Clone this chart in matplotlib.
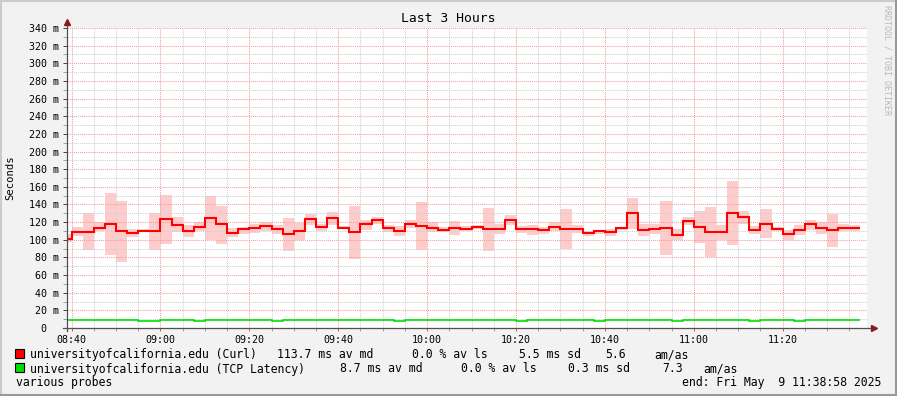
import matplotlib
matplotlib.use('Agg')
import matplotlib.pyplot as plt
import matplotlib.dates as mdates
from matplotlib.lines import Line2D
from matplotlib.patches import Rectangle
from matplotlib.ticker import MultipleLocator, FuncFormatter
import pandas as pd

# one value per 150 s step (the first step is the partial one before 08:40), in ms
curl_median = [101, 109, 109, 113.7, 118, 109.5, 107.6, 110, 110, 123.6,
               116.7, 110, 114.4, 124.7, 118, 108, 112, 113.3, 115.6, 112,
               106.5, 110, 123.6, 114.8, 124.7, 113.7, 109, 118, 122.4, 113.7,
               110, 118, 115.6, 113.7, 111, 113.3, 112.5, 114.4, 112.5, 112.5,
               122.8, 112.5, 112.5, 111.4, 114.4, 112.5, 112.5, 107.6, 110, 108.7,
               113.7, 130.4, 111, 112.5, 113.7, 105.3, 121.3, 114.4, 108.7, 108.7,
               130.4, 125.9, 110.6, 118, 112, 106.5, 111, 118.3, 113.3, 111,
               113.3, 113.3]
curl_min = [97, 104, 88, 110, 83, 75, 102.7, 109, 88, 95.4,
            108.7, 102.7, 109.5, 99.6, 95.4, 102.7, 106.5, 107.6, 110, 106.8,
            87.5, 100, 117, 109.5, 116.3, 112, 78.3, 111.4, 118.3, 108.4,
            104.5, 113.7, 88.6, 108.7, 108.7, 105.7, 109.5, 111.8, 87.5, 106.8,
            117, 107.2, 105.7, 106.8, 109.5, 89, 107.2, 104.5, 106.8, 104.5,
            111.4, 111.8, 104.5, 106.5, 83, 99.6, 117, 95.8, 80.2, 99.6,
            94.3, 118.3, 106.8, 101.5, 109.5, 100, 105.7, 111.4, 106.8, 91.3,
            109.5, 109.5]
curl_max = [106, 114, 130, 120, 152.5, 144.5, 112.5, 112, 130.4, 151,
            125.5, 116.7, 120.5, 150, 138.8, 113.3, 115, 118, 119.8, 117,
            124.3, 118.6, 129.7, 117.9, 132, 116, 138.8, 122.4, 125.5, 117,
            116, 122.8, 143.3, 119.8, 114, 121.7, 116, 117, 136.5, 117.9,
            128.5, 116, 117, 114, 119.8, 135.4, 117, 110.3, 111.4, 112.5,
            115, 147.9, 117.9, 117.9, 144.5, 112.5, 126.2, 133, 137.6, 117,
            166.5, 133, 116, 135.4, 114.4, 111.4, 117, 122.8, 119.8, 129.7,
            118.3, 116.3]
tcp_median = [9, 9, 9, 9, 9, 9, 9, 8.1, 8.1, 9,
              9, 9, 8.1, 9, 9, 9, 9, 9, 9, 8.1,
              9, 9, 9, 9, 9, 9, 9, 9, 9, 9,
              8.1, 9, 9, 9, 9, 9, 9, 9, 9, 9,
              9, 8.1, 9, 9, 9, 9, 9, 9, 8.1, 9,
              9, 9, 9, 9, 9, 8.1, 9, 9, 9, 9,
              9, 9, 8.1, 9, 9, 9, 8.1, 9, 9, 9,
              9, 9]

graph_start = pd.Timestamp('2025-05-09 08:38:58')
graph_end = pd.Timestamp('2025-05-09 11:38:58')
step_times = pd.date_range('2025-05-09 08:40:00', periods=len(curl_median), freq='150s')
edges = mdates.date2num([graph_start.to_pydatetime()] + list(step_times.to_pydatetime()))

W, H = 897, 396
plt.rcParams['font.family'] = 'DejaVu Sans Mono'

fig = plt.figure(figsize=(W / 100, H / 100), dpi=100, facecolor='#f2f2f2')
ax = fig.add_axes([67 / W, 68 / H, 800 / W, 300 / H])
ax.set_facecolor('white')


def px(x, y):
    return x / W, 1 - y / H


# smoke band + median lines
ax.stairs(curl_max, edges, baseline=curl_min, fill=True, color='#ffcccc', lw=0, zorder=1)
ax.stairs(curl_median, edges, baseline=None, color='#ff0000', lw=1.5, zorder=4)
ax.stairs(tcp_median, edges, baseline=None, color='#00e000', lw=1.2, zorder=4)

ax.set_xlim(mdates.date2num(graph_start.to_pydatetime()), mdates.date2num(graph_end.to_pydatetime()))
ax.set_ylim(0, 340)

ax.xaxis.set_major_locator(mdates.MinuteLocator(byminute=[0, 20, 40]))
ax.xaxis.set_minor_locator(mdates.MinuteLocator(byminute=range(0, 60, 5)))
ax.xaxis.set_major_formatter(mdates.DateFormatter('%H:%M'))
ax.yaxis.set_major_locator(MultipleLocator(20))
ax.yaxis.set_minor_locator(MultipleLocator(10))
ax.yaxis.set_major_formatter(FuncFormatter(lambda v, p: '0  ' if v == 0 else '%d m' % v))

ax.set_axisbelow(False)
ax.grid(which='minor', color='#cfcfcf', lw=0.75, ls=(0, (1, 1)), zorder=2)
ax.grid(which='major', color='#f2a0a0', lw=0.75, ls=(0, (1, 1)), zorder=2)

ax.tick_params(axis='both', labelsize=7.2, colors='black')
ax.tick_params(axis='y', which='major', length=3, width=0.7, color='#404040', pad=3)
ax.tick_params(axis='y', which='minor', length=3, width=0.7, color='#a0a0a0')
ax.tick_params(axis='x', which='major', length=2.5, width=0.7, color='#e05050', pad=2.5)
ax.tick_params(axis='x', which='minor', length=2.5, width=0.7, color='#a0a0a0')

for s in ax.spines.values():
    s.set_visible(False)

# axes with arrows
ax.plot([0, 0], [-0.01, 1.02], color='#505050', lw=0.9, transform=ax.transAxes, clip_on=False, zorder=5)
ax.plot([-0.005, 1.007], [0, 0], color='#505050', lw=0.9, transform=ax.transAxes, clip_on=False, zorder=5)
ax.plot([0], [1.02], marker='^', ms=4, color='#8b1a1a', transform=ax.transAxes, clip_on=False, zorder=6)
ax.plot([1.009], [0], marker='>', ms=4, color='#8b1a1a', transform=ax.transAxes, clip_on=False, zorder=6)

fig.text(*px(448, 18), 'Last 3 Hours', fontsize=9.4, ha='center', va='center')
fig.text(*px(10, 178), 'Seconds', fontsize=7.6, rotation=90, ha='center', va='center')
fig.text(*px(887, 60), 'RRDTOOL / TOBI OETIKER', fontsize=6, rotation=270,
         ha='center', va='center', color='#b8b8b8')

# legend rows
fs = 8.3
fig.patches.append(Rectangle(px(15, 358), 9 / W, 9 / H, transform=fig.transFigure,
                             facecolor='#ff0000', edgecolor='black', lw=0.8))
fig.patches.append(Rectangle(px(15, 372), 9 / W, 9 / H, transform=fig.transFigure,
                             facecolor='#00e000', edgecolor='black', lw=0.8))

row1 = [(30, 'universityofcalifornia.edu (Curl)'), (277, '113.7 ms av md'),
        (412, '0.0 % av ls'), (519, '5.5 ms sd'), (605, '5.6'), (654, 'am/as')]
row2 = [(30, 'universityofcalifornia.edu (TCP Latency)'), (340, '8.7 ms av md'),
        (461, '0.0 % av ls'), (568, '0.3 ms sd'), (662, '7.3'), (703, 'am/as')]
for x, t in row1:
    fig.text(*px(x, 358), t, fontsize=fs, va='baseline')
for x, t in row2:
    fig.text(*px(x, 372.5), t, fontsize=fs, va='baseline')
fig.text(*px(16, 386), 'various probes', fontsize=fs, va='baseline')
fig.text(*px(881, 386), 'end: Fri May  9 11:38:58 2025', fontsize=fs, ha='right', va='baseline')

# 3d-ish frame
fig.add_artist(Line2D([0, 1], [1 - 1 / H, 1 - 1 / H], color='#cbcbcb', lw=1.5))
fig.add_artist(Line2D([1 / W, 1 / W], [0, 1], color='#cbcbcb', lw=1.5))
fig.add_artist(Line2D([0, 1], [1 / H, 1 / H], color='#999999', lw=1.5))
fig.add_artist(Line2D([1 - 1 / W, 1 - 1 / W], [0, 1], color='#999999', lw=1.5))

fig.savefig('out.png', dpi=100, facecolor=fig.get_facecolor())
